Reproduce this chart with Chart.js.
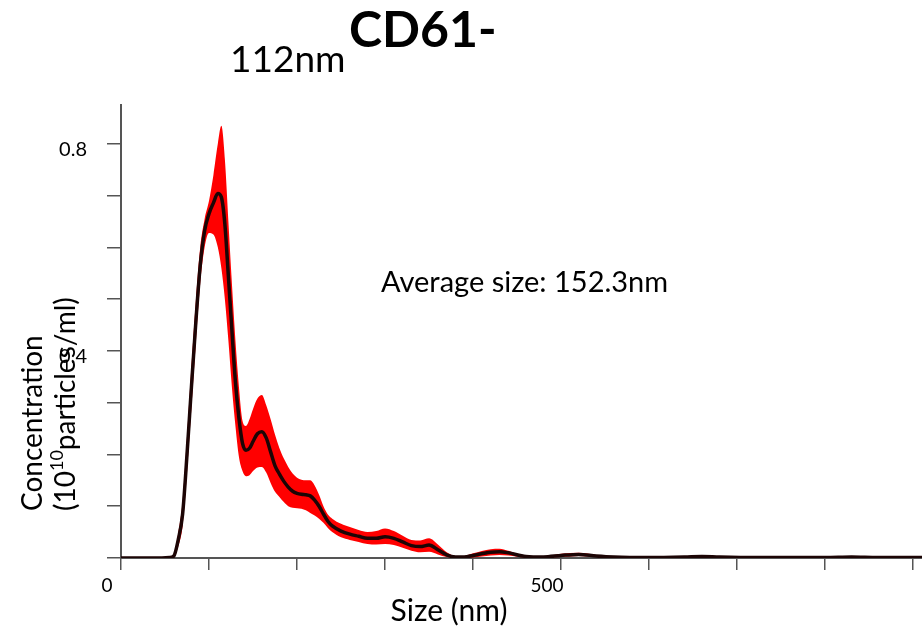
<!DOCTYPE html>
<html>
<head>
<meta charset="utf-8">
<script src="https://cdn.jsdelivr.net/npm/chart.js@4/dist/chart.umd.min.js"></script>
<style>
  body { margin: 0; background: #fff; }
  #wrap { width: 922px; height: 633px; position: relative; }
</style>
</head>
<body>
<div id="wrap"><canvas id="sizeChart"></canvas></div>
<script>
// particle size (nm)
const sizes = [0, 40, 55, 60, 65, 70, 75, 80, 85, 90, 95, 100, 105, 110, 114, 118, 122, 126, 130, 134,
  138, 142, 146, 150, 155, 160, 165, 170, 175, 180, 185, 190, 195, 200, 205, 210, 215, 220, 225, 230,
  235, 240, 250, 260, 270, 280, 290, 300, 310, 320, 330, 340, 350, 360, 370, 380, 390, 400, 420, 430,
  440, 460, 480, 500, 520, 540, 560, 600, 640, 660, 680, 720, 800, 830, 860, 910];

// mean concentration (10^10 particles/ml)
const meanConc = [0, 0, 0.001, 0.004, 0.035, 0.085, 0.2, 0.33, 0.455, 0.565, 0.632, 0.665, 0.686, 0.704, 0.697, 0.645, 0.544, 0.44, 0.34, 0.27,
  0.222, 0.208, 0.212, 0.225, 0.24, 0.244, 0.232, 0.205, 0.178, 0.162, 0.148, 0.137, 0.129, 0.125, 0.123, 0.122, 0.12, 0.112, 0.1, 0.085,
  0.071, 0.062, 0.052, 0.046, 0.042, 0.038, 0.038, 0.041, 0.038, 0.031, 0.024, 0.022, 0.025, 0.016, 0.006, 0.002, 0.002, 0.005, 0.011, 0.012,
  0.01, 0.003, 0.002, 0.005, 0.007, 0.004, 0.002, 0.001, 0.002, 0.003, 0.002, 0.001, 0.001, 0.002, 0.001, 0.001];

// error band (+/- 1 standard error)
const upperConc = [0, 0, 0.002, 0.008, 0.048, 0.11, 0.235, 0.37, 0.495, 0.6, 0.655, 0.69, 0.74, 0.8, 0.835, 0.77, 0.65, 0.53, 0.42, 0.33,
  0.265, 0.255, 0.268, 0.288, 0.308, 0.315, 0.295, 0.268, 0.238, 0.212, 0.192, 0.176, 0.163, 0.155, 0.151, 0.15, 0.15, 0.14, 0.122, 0.1,
  0.084, 0.076, 0.066, 0.06, 0.054, 0.05, 0.052, 0.057, 0.052, 0.043, 0.035, 0.034, 0.038, 0.026, 0.011, 0.004, 0.004, 0.009, 0.017, 0.018,
  0.014, 0.004, 0.003, 0.008, 0.01, 0.006, 0.003, 0.001, 0.003, 0.004, 0.003, 0.001, 0.002, 0.003, 0.001, 0.001];
const lowerConc = [0, 0, 0, 0.001, 0.022, 0.062, 0.165, 0.29, 0.415, 0.53, 0.6, 0.628, 0.625, 0.6, 0.56, 0.5, 0.42, 0.33, 0.255, 0.195,
  0.168, 0.158, 0.16, 0.168, 0.175, 0.176, 0.165, 0.145, 0.128, 0.118, 0.108, 0.1, 0.097, 0.096, 0.095, 0.092, 0.087, 0.082, 0.076, 0.068,
  0.058, 0.05, 0.04, 0.035, 0.031, 0.027, 0.026, 0.027, 0.025, 0.02, 0.014, 0.011, 0.012, 0.007, 0.002, 0, 0, 0.001, 0.005, 0.006,
  0.005, 0.001, 0.001, 0.002, 0.004, 0.002, 0.001, 0, 0.001, 0.002, 0.001, 0, 0, 0.001, 0, 0];

// tick marks and which of them carry a label
const xTicks = [0, 100, 200, 300, 400, 500, 600, 700, 800, 900];
const xTickLabels = [0, 500];
const yTicks = [0, 0.1, 0.2, 0.3, 0.4, 0.5, 0.6, 0.7, 0.8];
const yTickLabels = [0.4, 0.8];

const FONT = 'Lato, "Open Sans", sans-serif';

function toPoints(ys) {
    return sizes.map((x, i) => ({ x: x, y: ys[i] }));
}

function pickLabel(list, v, digits) {
    const hit = list.find(t => Math.abs(t - v) < 1e-6);
    return hit !== undefined ? hit.toFixed(digits) : '';
}

// texts that chart.js can't place the way the figure has them
const extraText = {
    id: 'extraText',
    afterDraw(chart) {
        const c = chart.ctx;
        c.save();
        c.fillStyle = '#000';
        c.textBaseline = 'alphabetic';

        // title
        c.textAlign = 'left';
        c.font = '37px ' + FONT;
        c.fillText('112nm', 230, 72);
        c.font = 'bold 50px ' + FONT;
        c.fillText('CD61-', 349, 47);

        // annotation
        c.font = '29px ' + FONT;
        c.fillText('Average size: 152.3nm', 381, 292);

        // x axis title
        c.textAlign = 'center';
        c.font = '30px ' + FONT;
        c.fillText('Size (nm)', 449, 621);

        // y axis title, two lines rotated
        c.translate(0, 511);
        c.rotate(-Math.PI / 2);
        c.textAlign = 'left';
        c.font = '28px ' + FONT;
        c.fillText('Concentration', 0, 42);
        let x0 = 0;
        c.fillText('(10', x0, 75);
        x0 += c.measureText('(10').width;
        c.font = '18px ' + FONT;
        c.fillText('10', x0, 63);
        x0 += c.measureText('10').width;
        c.font = '28px ' + FONT;
        c.fillText('particles/ml)', x0, 75);
        c.restore();
    }
};

const ctx = document.getElementById('sizeChart').getContext('2d');
const sizeChart = new Chart(ctx, {
    type: 'line',
    data: {
        datasets: [
            {
                label: 'upper',
                data: toPoints(upperConc),
                order: 2,
                borderWidth: 0,
                pointRadius: 0,
                backgroundColor: 'rgb(255,0,0)',
                fill: '+1',
                cubicInterpolationMode: 'monotone'
            },
            {
                label: 'lower',
                data: toPoints(lowerConc),
                order: 2,
                borderWidth: 0,
                pointRadius: 0,
                fill: false,
                cubicInterpolationMode: 'monotone'
            },
            {
                label: 'mean',
                data: toPoints(meanConc),
                order: 0,
                borderColor: '#1c0505',
                borderWidth: 3.5,
                pointRadius: 0,
                fill: false,
                cubicInterpolationMode: 'monotone'
            }
        ]
    },
    options: {
        responsive: true,
        maintainAspectRatio: false,
        animation: false,
        layout: { padding: { top: 105, left: 0, right: 0, bottom: 0 } },
        plugins: {
            legend: { display: false },
            tooltip: { enabled: false },
            title: { display: false }
        },
        scales: {
            x: {
                type: 'linear',
                bounds: 'data',
                min: 0,
                max: 910,
                afterBuildTicks: (s) => { s.ticks = xTicks.map(v => ({ value: v })); },
                afterFit: (s) => { s.height = 75; },
                border: { display: true, color: '#555', width: 2 },
                grid: { drawOnChartArea: false, drawTicks: true, tickLength: 12, color: '#555', lineWidth: 1.5 },
                ticks: {
                    maxRotation: 0,
                    autoSkip: false,
                    padding: 4,
                    labelOffset: -14,
                    color: '#000',
                    font: { family: FONT, size: 19 },
                    callback: (v) => pickLabel(xTickLabels, v, 0)
                }
            },
            y: {
                bounds: 'data',
                min: 0,
                max: 0.875,
                afterBuildTicks: (s) => { s.ticks = yTicks.map(v => ({ value: v })); },
                afterFit: (s) => { s.width = 121; },
                border: { display: true, color: '#555', width: 2 },
                grid: { drawOnChartArea: false, drawTicks: true, tickLength: 14, color: '#555', lineWidth: 1.5 },
                ticks: {
                    autoSkip: false,
                    padding: 20,
                    labelOffset: 6,
                    color: '#000',
                    font: { family: FONT, size: 20 },
                    callback: (v) => pickLabel(yTickLabels, v, 1)
                }
            }
        }
    },
    plugins: [extraText]
});
</script>
</body>
</html>
